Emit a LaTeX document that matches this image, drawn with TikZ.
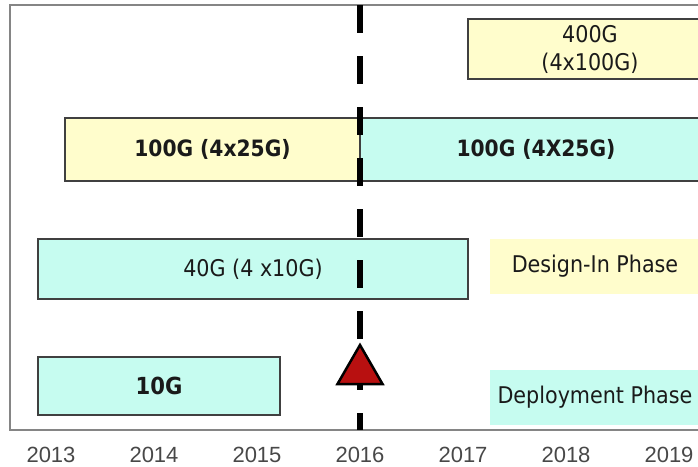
\documentclass[tikz,border=0pt]{standalone}
\usepackage{fontspec}
\setmainfont{DejaVu Sans Condensed}
\newfontfamily\yearfont{Liberation Sans}
\usetikzlibrary{shapes.geometric}
\definecolor{paleyellow}{HTML}{FFFDCC}
\definecolor{palecyan}{HTML}{C6FCF0}
\definecolor{boxline}{HTML}{404040}
\definecolor{framegray}{HTML}{858585}
\definecolor{textdark}{HTML}{1A1A1A}
\definecolor{nowred}{HTML}{B81010}
\tikzset{techbox/.style={rectangle,draw=boxline,line width=1.5pt,inner sep=0pt,text=textdark,align=center,font=\fontsize{23}{28}\selectfont}}
\tikzset{legendbox/.style={rectangle,inner sep=0pt,text=textdark,font=\fontsize{23}{26}\selectfont}}
\tikzset{dashline/.style={line width=6pt,dash pattern=on 28pt off 23pt}}

\begin{document}
\begin{tikzpicture}[x=1pt,y=-1pt]
  \useasboundingbox (0,0) rectangle (698,466);
  \clip (0,0) rectangle (698,466);

  % Cadre
  \draw [framegray,line width=2pt] (10,5) rectangle (712,430);

  % Technologies
  \node [techbox,fill=paleyellow,minimum width=244pt,minimum height=60pt] (G400) at (590,49) {400G\\(4x100G)};
  \node [techbox,fill=paleyellow,minimum width=295pt,minimum height=63pt,font=\fontsize{22.5}{26}\bfseries] (G100a) at (212.5,149.5) {100G (4x25G)};
  \node [techbox,fill=palecyan,minimum width=352pt,minimum height=63pt,font=\fontsize{22.5}{26}\bfseries] (G100b) at (536,149.5) {100G (4X25G)};
  \node [techbox,fill=palecyan,minimum width=430pt,minimum height=60pt] (G40) at (253,269) {40G (4 x10G)};
  \node [techbox,fill=palecyan,minimum width=242pt,minimum height=58pt,font=\fontsize{23.5}{26}\bfseries] (G10) at (159,386) {10G};

  % Legende
  \node [legendbox,fill=paleyellow,minimum width=210pt,minimum height=55pt] (design) at (595,266.5) {Design-In Phase};
  \node [legendbox,fill=palecyan,minimum width=210pt,minimum height=55pt] (deploy) at (595,397.5) {Deployment Phase};

  % Aujourd'hui
  \coordinate (nowtop) at (360,5);
  \coordinate (nowbot) at (360,430);
  \draw [dashline] (nowtop) -- (nowbot);
  \node [regular polygon,regular polygon sides=3,minimum size=52pt,inner sep=0pt,
         fill=nowred,draw=black,line width=2.5pt] (now) at (360,371) {};

  % Annees
  \foreach \yr [count=\i from 0] in {2013,...,2019}
    \node [text=textdark!80,font=\yearfont\fontsize{22}{24}\selectfont] (Y\yr) at (51+103*\i,455) {\yr};
\end{tikzpicture}
\end{document}
